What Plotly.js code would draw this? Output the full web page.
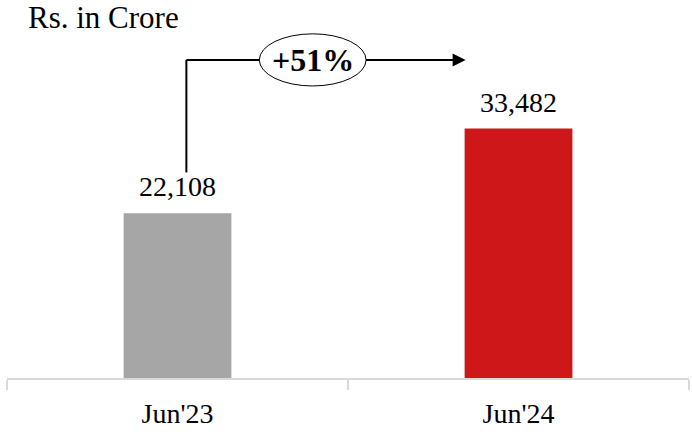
<!DOCTYPE html>
<html><head><meta charset="utf-8">
<script src="https://cdn.plot.ly/plotly-3.0.1.min.js"></script>
<style>html,body{margin:0;padding:0;background:#fff}#chart{width:692px;height:434px}</style>
</head><body><div id="chart"></div>
<script>
const categories = ["Jun'23", "Jun'24"];
const values = [22108, 33482];
const labels = ["22,108", "33,482"];
const barColors = ["#a6a6a6", "#cd1719"];
const growthLabel = "+51%";
const unitLabel = "Rs. in Crore";

const F = "Liberation Serif";
const yLine = 42700, yStem = 27600;
const trace = {
  type: 'bar', x: categories, y: values,
  marker: {color: barColors},
  hoverinfo: 'none'
};
const valueAnnotations = categories.map((c, i) => ({
  x: c, y: values[i], xref: 'x', yref: 'y', text: labels[i], showarrow: false,
  yanchor: 'bottom', yshift: 9, font: {family: F, size: 28, color: '#000'}
}));
const layout = {
  width: 692, height: 434,
  margin: {l: 7, r: 3, t: 10, b: 56},
  paper_bgcolor: '#fff', plot_bgcolor: '#fff',
  bargap: 0.684,
  showlegend: false,
  font: {family: F, color: '#000'},
  title: {text: unitLabel, font: {family: F, size: 31, color: '#000'},
          x: 28/692, xanchor: 'left', xref: 'container', y: 1 - 17/434, yanchor: 'middle', yref: 'container'},
  xaxis: {type: 'category', tickson: 'boundaries', ticks: 'outside', ticklen: 10, tickwidth: 2, tickcolor: '#d9d9d9',
          ticklabelstandoff: 9,
          showgrid: false, zeroline: false, showline: true, linecolor: '#d9d9d9', linewidth: 2,
          tickfont: {family: F, size: 28, color: '#000'}, fixedrange: true},
  yaxis: {range: [0, 49400], visible: false, showgrid: false, zeroline: false, fixedrange: true},
  shapes: [
    {type: 'line', xref: 'x', yref: 'y', x0: 0.026, x1: 0.026, y0: yStem, y1: yLine, line: {color: '#000', width: 2}},
    {type: 'line', xref: 'x', yref: 'y', x0: 0.026, x1: 0.80, y0: yLine, y1: yLine, line: {color: '#000', width: 2}},
    {type: 'circle', xref: 'x', yref: 'y', x0: 0.24, x1: 0.553, y0: yLine - 3500, y1: yLine + 3500,
     line: {color: '#000', width: 1}, fillcolor: '#fff'}
  ],
  annotations: valueAnnotations.concat([
    {x: 0.397, y: yLine, xref: 'x', yref: 'y', text: '<b>' + growthLabel + '</b>', showarrow: false,
     font: {family: F, size: 32, color: '#000'}},
    {x: 0.845, y: yLine, xref: 'x', yref: 'y', ax: -30, ay: 0, text: '', showarrow: true,
     arrowhead: 2, arrowsize: 1.3, arrowwidth: 2, arrowcolor: '#000'}
  ])
};
Plotly.newPlot('chart', [trace], layout, {staticPlot: true});
</script></body></html>
